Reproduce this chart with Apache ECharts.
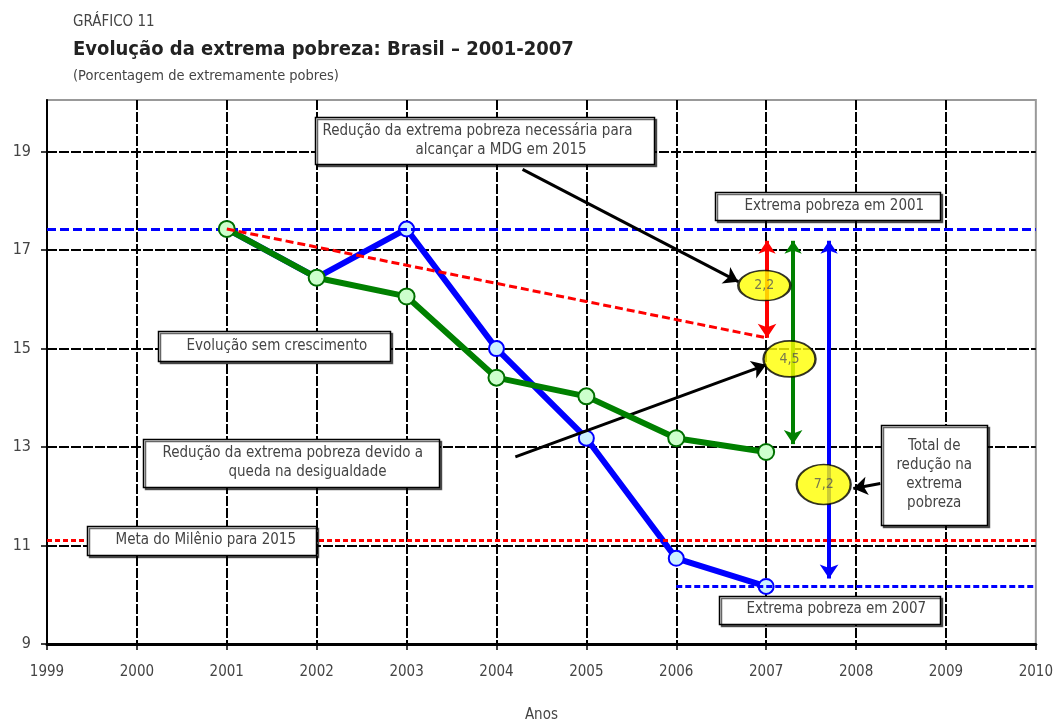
<!DOCTYPE html>
<html>
<head>
<meta charset="utf-8">
<script src="https://cdn.jsdelivr.net/npm/echarts@6/dist/echarts.min.js"></script>
<style>
  html, body { margin: 0; padding: 0; background: #fff; }
  #chart { width: 1056px; height: 728px; }
</style>
</head>
<body>
<div id="chart"></div>
<script>
// anos e valores
var years = [2001, 2002, 2003, 2004, 2005, 2006, 2007];
var pobrezaReal = [17.43, 16.44, 17.43, 15.0, 13.18, 10.74, 10.17];     // azul
var semCrescimento = [17.43, 16.44, 16.06, 14.41, 14.03, 13.18, 12.9]; // verde
var metaTrajetoria = [[2001, 17.43], [2007, 15.22]];                    // vermelho tracejado
var nivel2001 = 17.43;
var nivel2007 = 10.17;
var metaMilenio = 11.1;
var reducoes = ['2,2', '4,5', '7,2'];
var yTicks = [9, 11, 13, 15, 17, 19];

var FONT = "'Liberation Sans Narrow', 'DejaVu Sans Condensed', 'Noto Sans', sans-serif";

function pairs(xs, ys) {
  return xs.map(function (x, i) { return [x, ys[i]]; });
}

// caixas de texto: centro em coordenadas do gráfico, tamanho e recuo de cada linha em px
var boxes = [
  { lines: ['Redução da extrema pobreza necessária para', 'alcançar a MDG em 2015'], indent: [7, 100],
    at: [2003.87, 19.22], w: 339, h: 47 },
  { lines: ['Extrema pobreza em 2001'], indent: [29], at: [2007.68, 17.89], w: 225, h: 28 },
  { lines: ['Evolução sem crescimento'], indent: [28], at: [2001.53, 15.06], w: 232, h: 30 },
  { lines: ['Redução da extrema pobreza devido a', 'queda na desigualdade'], indent: [19, 85],
    at: [2001.71, 12.68], w: 296, h: 48 },
  { lines: ['Meta do Milênio para 2015'], indent: [28], at: [2000.72, 11.11], w: 229, h: 29 },
  { lines: ['Extrema pobreza em 2007'], indent: [27], at: [2007.70, 9.70], w: 221, h: 28 },
  { lines: ['Total de', 'redução na', 'extrema', 'pobreza'], center: true,
    at: [2008.87, 12.44], w: 106, h: 100 }
];

var ellipses = [
  { at: [2006.98, 16.28], size: [52, 30] },
  { at: [2007.26, 14.79], size: [52, 36] },
  { at: [2007.64, 12.24], size: [54, 40] }
];

var chart = echarts.init(document.getElementById('chart'));

function arrow(from, to, color, both, width) {
  return [
    { coord: from, symbol: both ? 'arrow' : 'none', symbolSize: 13,
      lineStyle: { color: color, width: width || 3, type: 'solid' } },
    { coord: to, symbol: 'arrow', symbolSize: 14 }
  ];
}

var option = {
  backgroundColor: '#fff',
  animation: false,
  textStyle: { fontFamily: FONT },
  title: [
    { text: 'GRÁFICO 11', left: 68, top: 10,
      textStyle: { fontSize: 15, fontWeight: 'normal', color: '#444', fontFamily: FONT } },
    { text: 'Evolução da extrema pobreza: Brasil – 2001-2007', left: 68, top: 35,
      textStyle: { fontSize: 20, fontWeight: 'bold', color: '#222', fontFamily: FONT } },
    { text: '(Porcentagem de extremamente pobres)', left: 68, top: 64,
      textStyle: { fontSize: 14.5, fontWeight: 'normal', color: '#444', fontFamily: FONT } }
  ],
  grid: {
    left: 47, right: 15, top: 100, bottom: 79,
    show: true, borderColor: '#999', borderWidth: 2, backgroundColor: '#fff'
  },
  xAxis: {
    type: 'value', min: 1999, max: 2010, interval: 1,
    name: 'Anos', nameLocation: 'middle', nameGap: 64,
    nameTextStyle: { fontSize: 15, color: '#444' },
    axisLine: { show: true, lineStyle: { color: '#000', width: 3 } },
    axisTick: { show: true, length: 6, lineStyle: { color: '#000', width: 1.5 } },
    axisLabel: { fontSize: 15, color: '#444', margin: 21, formatter: function (v) { return String(v); } },
    splitLine: { show: true, showMinLine: false, showMaxLine: false,
      lineStyle: { color: '#000', width: 2, type: [10, 2] } }
  },
  yAxis: {
    type: 'value', min: 9, max: 20.05, interval: 2,
    axisLine: { show: true, lineStyle: { color: '#000', width: 2 } },
    axisTick: { show: true, length: 6, lineStyle: { color: '#000', width: 1.5 } },
    axisLabel: { fontSize: 16, color: '#444', margin: 16, showMaxLabel: false,
      formatter: function (v) { return yTicks.indexOf(v) >= 0 ? String(v) : ''; } },
    splitLine: { show: true, showMinLine: false, showMaxLine: false,
      lineStyle: { color: '#000', width: 2, type: [10, 2] } }
  },
  series: [
    {
      name: 'Linhas de referência', type: 'line', data: [], z: 3, silent: true,
      markLine: {
        silent: true, symbol: 'none', label: { show: false },
        data: [
          { yAxis: nivel2001, lineStyle: { color: '#0000ff', width: 3, type: [9, 4] } },
          { yAxis: metaMilenio, lineStyle: { color: '#ff0000', width: 3, type: [5, 3] } },
          [{ coord: [2006, nivel2007], lineStyle: { color: '#0000ff', width: 3, type: [6, 3] } },
           { coord: [2010, nivel2007] }]
        ]
      }
    },
    {
      name: 'Extrema pobreza', type: 'line', z: 4,
      data: pairs(years, pobrezaReal),
      symbol: 'circle', symbolSize: 15,
      lineStyle: { color: '#0000ff', width: 6 },
      itemStyle: { color: '#ccf0ff', borderColor: '#0000ff', borderWidth: 2 }
    },
    {
      name: 'Sem crescimento', type: 'line', z: 5,
      data: pairs(years, semCrescimento),
      symbol: 'circle', symbolSize: 16,
      lineStyle: { color: '#008000', width: 6 },
      itemStyle: { color: '#ccffcc', borderColor: '#007000', borderWidth: 2 }
    },
    {
      name: 'Trajetória MDG', type: 'line', z: 6, silent: true,
      data: metaTrajetoria, symbol: 'none',
      lineStyle: { color: '#ff0000', width: 3, type: [8, 4] }
    },
    {
      name: 'Setas', type: 'line', data: [], z: 7, silent: true,
      markLine: {
        silent: true, label: { show: false },
        data: [
          arrow([2007.01, 17.19], [2007.01, 15.22], '#ff0000', true, 4),
          arrow([2007.30, 17.19], [2007.30, 13.06], '#008000', true, 4),
          arrow([2007.70, 17.19], [2007.70, 10.33], '#0000ff', true, 4),
          arrow([2004.29, 18.64], [2006.69, 16.36], '#000', false, 3),
          arrow([2004.21, 12.80], [2007.0, 14.67], '#000', false, 3),
          arrow([2008.27, 12.26], [2007.97, 12.16], '#000', false, 3)
        ]
      }
    },
    {
      name: 'Reduções', type: 'scatter', z: 8, silent: true,
      data: ellipses.map(function (e, i) {
        return { value: e.at, symbolSize: e.size,
          label: { show: true, formatter: reducoes[i] } };
      }),
      symbol: 'circle',
      itemStyle: { color: '#ffff00', borderColor: '#000', borderWidth: 2 },
      label: { position: 'inside', fontSize: 14, color: '#555', fontFamily: FONT }
    }
  ]
};

chart.setOption(option);

// caixas desenhadas depois, usando a escala do gráfico para posicionar
function boxGraphics() {
  return boxes.map(function (b) {
    var c = chart.convertToPixel({ gridIndex: 0 }, b.at);
    var x0 = Math.round(c[0] - b.w / 2) + 0.5, y0 = Math.round(c[1] - b.h / 2) + 0.5;
    var children = [{
      type: 'rect', z: 100, shape: { x: x0, y: y0, width: b.w, height: b.h },
      style: { fill: '#fff', stroke: '#000', lineWidth: 1.5,
        shadowColor: 'rgba(0,0,0,0.6)', shadowOffsetX: 2, shadowOffsetY: 2, shadowBlur: 0 }
    }];
    var n = b.lines.length, lh = 19;
    b.lines.forEach(function (t, i) {
      children.push({
        type: 'text', z: 101,
        x: b.center ? c[0] : x0 + b.indent[i],
        y: c[1] + (i - (n - 1) / 2) * lh,
        style: { text: t, fill: '#444', fontSize: 15, fontFamily: FONT,
          textAlign: b.center ? 'center' : 'left', textVerticalAlign: 'middle' }
      });
    });
    return { type: 'group', silent: true, z: 100, children: children };
  });
}

chart.setOption({ graphic: boxGraphics() });
</script>
</body>
</html>
